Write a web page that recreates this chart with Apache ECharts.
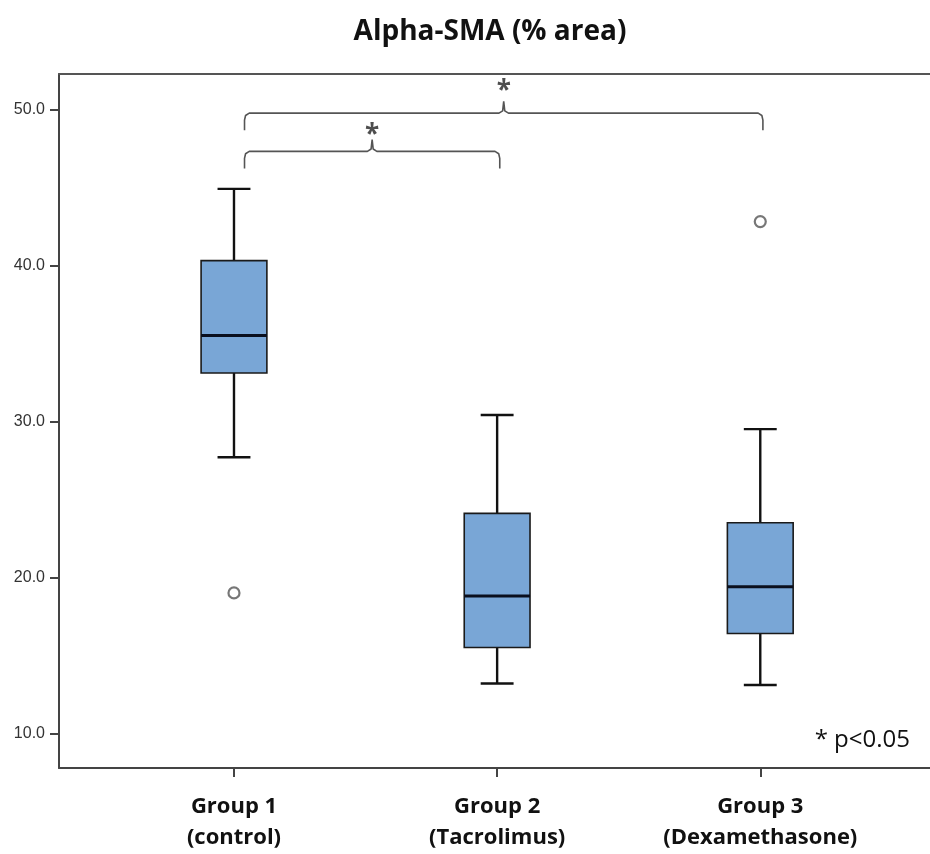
<!DOCTYPE html>
<html><head><meta charset="utf-8">
<script src="https://cdn.jsdelivr.net/npm/echarts@6/dist/echarts.min.js"></script>
<style>html,body{margin:0;padding:0;background:#fff;overflow:hidden}#c{width:930px;height:854px}</style>
</head><body><div id="c"></div>
<script>
const titleText = 'Alpha-SMA (% area)';
const categories = ['Group 1\n(control)', 'Group 2\n(Tacrolimus)', 'Group 3\n(Dexamethasone)'];
// [lower whisker, Q1, median, Q3, upper whisker]
const group1Box = [27.7, 33.1, 35.5, 40.3, 44.9];
const group2Box = [13.2, 15.5, 18.8, 24.1, 30.4];
const group3Box = [13.1, 16.4, 19.4, 23.5, 29.5];
const outlierGroups = [0, 2];
const outlierValues = [19.0, 42.8];
const yTicks = [10, 20, 30, 40, 50];
const comparisons = [[0, 1], [0, 2]];
const comparisonLevels = [47.3, 49.75];
const sigLevels = [48.7, 51.5];
const sigMarks = ['*', '*'];
const noteText = '* p<0.05';

const boxes = [group1Box, group2Box, group3Box];
const boxData = boxes.map((b, i) => [i].concat(b));
const outlierData = outlierGroups.map((g, i) => [g, outlierValues[i]]);

const X_MIN = -0.665, X_MAX = 2.645;

function bracketPoints(a, b, h) {
  const l = a + 0.04, r = b + 0.01, m = (l + r) / 2;
  return [
    [l, h - 1.1], [l, h - 0.45], [l + 0.004, h - 0.15], [l + 0.018, h],
    [m - 0.018, h], [m - 0.004, h + 0.15], [m, h + 0.75],
    [m + 0.004, h + 0.15], [m + 0.018, h],
    [r - 0.018, h], [r - 0.004, h - 0.15], [r, h - 0.45], [r, h - 1.1]
  ];
}

const bracketSeries = comparisons.map((c, i) => ({
  type: 'line', xAxisIndex: 0, yAxisIndex: 0,
  data: bracketPoints(c[0], c[1], comparisonLevels[i]),
  symbol: 'none', smooth: false, silent: true,
  lineStyle: { color: '#555', width: 1.6 }, z: 3
}));

const sigData = comparisons.map((c, i) => {
  const l = c[0] + 0.04, r = c[1] + 0.01;
  return [(l + r) / 2, sigLevels[i]];
});

const chart = echarts.init(document.getElementById('c'), null, { renderer: 'canvas' });
chart.setOption({
  animation: false,
  backgroundColor: '#fff',
  title: [{
    text: titleText, left: 485, top: 13, textAlign: 'center',
    textStyle: { fontFamily: 'Open Sans', fontWeight: 'bold', fontSize: 28, color: '#111' }
  }, {
    text: noteText, right: 15, top: 723,
    textStyle: { fontFamily: 'Open Sans', fontWeight: 'normal', fontSize: 24, color: '#111' }
  }],
  grid: { left: 59, right: -2, top: 74, bottom: 86, containLabel: false },
  xAxis: [{
    type: 'value', min: X_MIN, max: X_MAX, position: 'bottom',
    axisLine: { show: true, onZero: false, lineStyle: { color: '#444', width: 2 } },
    axisTick: { show: true, length: 9, customValues: [0, 1, 2], lineStyle: { color: '#444', width: 2 } },
    axisLabel: {
      show: true, customValues: [0, 1, 2], margin: 23,
      formatter: v => categories[Math.round(v)],
      fontFamily: 'Open Sans', fontWeight: 'bold', fontSize: 22, lineHeight: 31, color: '#111'
    },
    splitLine: { show: false }
  }, {
    type: 'value', min: X_MIN, max: X_MAX, position: 'top',
    axisLine: { show: true, onZero: false, lineStyle: { color: '#555', width: 2 } },
    axisTick: { show: false }, axisLabel: { show: false }, splitLine: { show: false }
  }],
  yAxis: {
    type: 'value', min: 7.78, max: 52.26, position: 'left',
    axisLine: { show: true, onZero: false, lineStyle: { color: '#444', width: 2 } },
    axisTick: { show: true, length: 9, customValues: yTicks, lineStyle: { color: '#444', width: 2 } },
    axisLabel: {
      show: true, customValues: yTicks, margin: 14,
      formatter: v => v.toFixed(1),
      fontFamily: 'Liberation Sans', fontSize: 16, color: '#333'
    },
    splitLine: { show: false }
  },
  series: [{
    type: 'custom', xAxisIndex: 0, yAxisIndex: 0, z: 5,
    data: boxData,
    encode: { x: 0, y: [1, 2, 3, 4, 5] },
    renderItem: function (params, api) {
      const x = api.value(0);
      const lo = api.coord([x, api.value(1)]);
      const q1 = api.coord([x, api.value(2)]);
      const md = api.coord([x, api.value(3)]);
      const q3 = api.coord([x, api.value(4)]);
      const hi = api.coord([x, api.value(5)]);
      const cx = lo[0];
      const bw = api.size([1, 0])[0] * 0.25;
      const capHalf = bw / 4;
      const black = '#111';
      return {
        type: 'group',
        children: [
          { type: 'line', shape: { x1: cx, y1: lo[1], x2: cx, y2: q1[1] }, style: { stroke: black, lineWidth: 2.4 } },
          { type: 'line', shape: { x1: cx, y1: q3[1], x2: cx, y2: hi[1] }, style: { stroke: black, lineWidth: 2.4 } },
          { type: 'line', shape: { x1: cx - capHalf, y1: lo[1], x2: cx + capHalf, y2: lo[1] }, style: { stroke: black, lineWidth: 2.4 } },
          { type: 'line', shape: { x1: cx - capHalf, y1: hi[1], x2: cx + capHalf, y2: hi[1] }, style: { stroke: black, lineWidth: 2.4 } },
          { type: 'rect', shape: { x: cx - bw / 2, y: q3[1], width: bw, height: q1[1] - q3[1] },
            style: { fill: '#79a6d6', stroke: '#1a1a1a', lineWidth: 1.6 } },
          { type: 'line', shape: { x1: cx - bw / 2, y1: md[1], x2: cx + bw / 2, y2: md[1] }, style: { stroke: '#0a0f1e', lineWidth: 3 } }
        ]
      };
    }
  }, {
    type: 'scatter', xAxisIndex: 0, yAxisIndex: 0, z: 6,
    data: outlierData, symbol: 'circle', symbolSize: 11,
    itemStyle: { color: '#fff', borderColor: '#555', borderWidth: 2.2 }
  }, {
    type: 'scatter', xAxisIndex: 0, yAxisIndex: 0, z: 6,
    data: sigData, symbolSize: 0, silent: true,
    label: {
      show: true, position: 'inside',
      formatter: p => sigMarks[p.dataIndex],
      fontFamily: 'Open Sans', fontWeight: 'bold', fontSize: 26, color: '#222', offset: [0, 6]
    }
  }].concat(bracketSeries)
});
</script></body></html>
